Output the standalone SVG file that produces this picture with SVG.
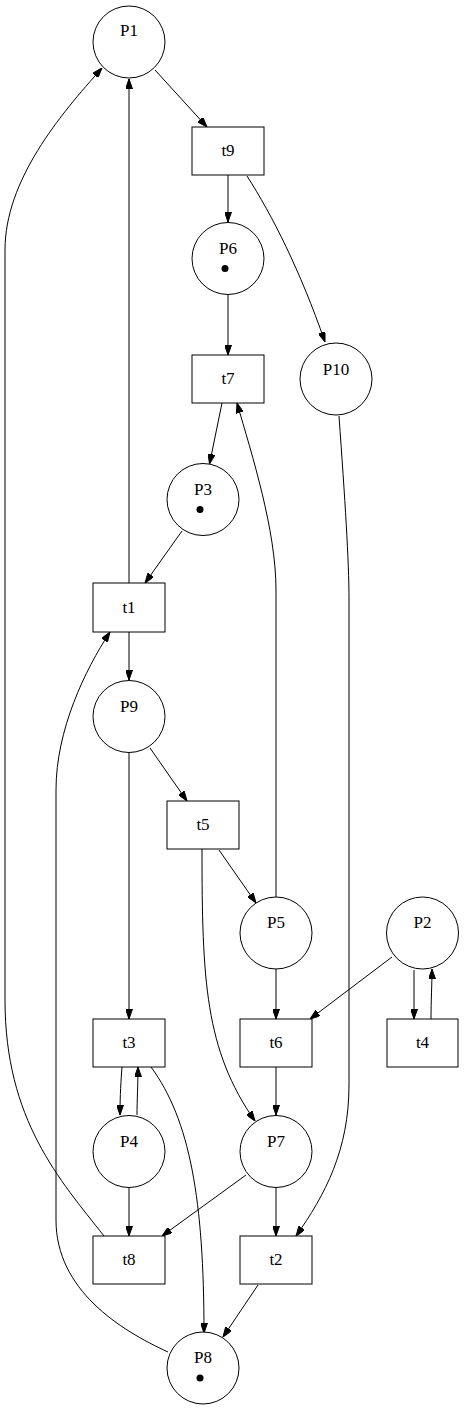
<svg xmlns="http://www.w3.org/2000/svg" width="464" height="1409" viewBox="0 0 464 1409">
<style>
.pl{fill:#fff;stroke:#000;stroke-width:1}
.tr{fill:#fff;stroke:#000;stroke-width:1}
.tk{fill:#000}
text{font-family:"Liberation Serif","Times New Roman",serif;font-size:17px;text-anchor:middle;fill:#000}
.e path{fill:none;stroke:#000;stroke-width:1;marker-end:url(#ah)}
</style>
<defs>
<marker id="ah" viewBox="0 0 10 7" refX="10" refY="3.5" markerWidth="10" markerHeight="7" markerUnits="userSpaceOnUse" orient="auto">
<path d="M0,0 L10,3.5 L0,7 z" fill="#000" stroke="#000" stroke-width="1"/>
</marker>
</defs>
<rect width="464" height="1409" fill="#fff"/>
<g class="e" id="connectors">
<path d="M155,70 L207,127"/>
<path d="M228,175 L228,222"/>
<path d="M247,176 C272,215 300,270 325,342"/>
<path d="M228,295 L228,355"/>
<path d="M222,403 L209.5,464"/>
<path d="M276,897 L276,590 C276,530 252,455 237,403"/>
<path d="M182,531 L145,583"/>
<path d="M129,583 L129,79"/>
<path d="M129,632 L129,680"/>
<path d="M168,1352 C120,1330 56,1290 56,1220 L56,790 C56,730 85,670 110,632"/>
<path d="M104,1236 C60,1180 5,1120 5,1000 L5,250 C5,180 60,115 102,68"/>
<path d="M150,748 L187,801"/>
<path d="M129,753 L129,1019"/>
<path d="M219,850 L256,903"/>
<path d="M202,849 C202,980 205,1050 255,1121"/>
<path d="M276,969 L276,1019"/>
<path d="M392,957 L310,1019"/>
<path d="M414,970 L414,1019"/>
<path d="M431,1019 C431,1000 432,985 432,969"/>
<path d="M122,1067 C121,1080 120,1095 120,1115"/>
<path d="M137,1115 C137,1100 138,1085 138,1067"/>
<path d="M151,1067 C190,1120 204,1200 204,1333"/>
<path d="M246,1175 L162,1236"/>
<path d="M129,1188 L129,1236"/>
<path d="M276,1188 L276,1236"/>
<path d="M339,416 C345,500 349,560 349,600 L349,1085 C349,1150 325,1195 296,1236"/>
<path d="M258,1285 L223,1337"/>
<path d="M276,1067 L276,1115"/>
</g>
<g id="P1"><circle class="pl" cx="129" cy="42" r="36"/><text x="129" y="36">P1</text></g>
<g id="t9"><rect class="tr" x="192" y="127" width="72" height="48"/><text x="228" y="156">t9</text></g>
<g id="P6"><circle class="pl" cx="228" cy="258.5" r="36"/><text x="228" y="253.5">P6</text><circle class="tk" cx="225" cy="268.5" r="3.5"/></g>
<g id="t7"><rect class="tr" x="192" y="355" width="72" height="48"/><text x="228" y="384">t7</text></g>
<g id="P10"><circle class="pl" cx="336" cy="379" r="36"/><text x="336" y="374.5">P10</text></g>
<g id="P3"><circle class="pl" cx="203" cy="499.5" r="36"/><text x="203" y="494.5">P3</text><circle class="tk" cx="200" cy="509.5" r="3.5"/></g>
<g id="t1"><rect class="tr" x="93" y="583" width="72" height="49"/><text x="129" y="613">t1</text></g>
<g id="P9"><circle class="pl" cx="129" cy="716.5" r="36"/><text x="129" y="711.5">P9</text></g>
<g id="t5"><rect class="tr" x="167" y="801" width="72" height="48"/><text x="203" y="830">t5</text></g>
<g id="P5"><circle class="pl" cx="276" cy="933" r="36"/><text x="276" y="928">P5</text></g>
<g id="P2"><circle class="pl" cx="422.5" cy="933" r="36"/><text x="422.5" y="928">P2</text></g>
<g id="t3"><rect class="tr" x="93" y="1019" width="72" height="48"/><text x="129" y="1048">t3</text></g>
<g id="t6"><rect class="tr" x="240" y="1019" width="72" height="48"/><text x="276" y="1048">t6</text></g>
<g id="t4"><rect class="tr" x="387" y="1019" width="71" height="48"/><text x="422.5" y="1048">t4</text></g>
<g id="P4"><circle class="pl" cx="129" cy="1151.5" r="36"/><text x="129" y="1146.5">P4</text></g>
<g id="P7"><circle class="pl" cx="276" cy="1151.5" r="36"/><text x="276" y="1146.5">P7</text></g>
<g id="t8"><rect class="tr" x="93" y="1236" width="72" height="48"/><text x="129" y="1265">t8</text></g>
<g id="t2"><rect class="tr" x="240" y="1236" width="72" height="48"/><text x="276" y="1265">t2</text></g>
<g id="P8"><circle class="pl" cx="203" cy="1368" r="36"/><text x="203" y="1363">P8</text><circle class="tk" cx="200" cy="1378" r="3.5"/></g>
</svg>
